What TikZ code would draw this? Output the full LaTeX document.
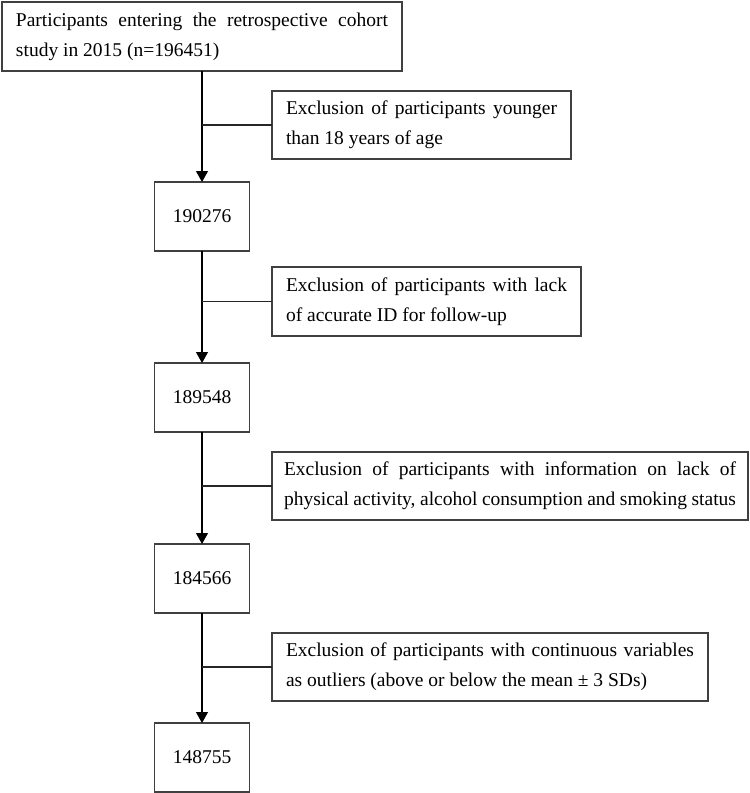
\documentclass[tikz,border=0pt]{standalone}
\usepackage{fontspec}
\setmainfont{Liberation Serif}
\usetikzlibrary{arrows.meta}
\begin{document}
\begin{tikzpicture}[x=1pt,y=-1pt,
  txt/.style={font=\fontsize{19.5}{30}\selectfont},
  exbox/.style={txt, draw=black!75, line width=1.2pt, inner xsep=14pt, inner ysep=0pt, outer sep=0pt, align=justify, anchor=center},
  numbox/.style={txt, draw=black!75, line width=1.2pt, inner sep=0pt, outer sep=0pt, minimum width=95pt, minimum height=69pt, anchor=center},
  conn/.style={draw=black, line width=1.2pt},
  branch/.style={draw=black!85, line width=1.1pt},
  arr/.style={conn, -{Triangle[width=12pt,length=11pt]}}
]
\useasboundingbox (0,0) rectangle (750,793);

\node[exbox, text width=372pt, minimum height=69pt] (top) at (202,36.5)
  {Participants entering the retrospective cohort\linebreak study in 2015 (n=196451)};

\node[exbox, text width=271pt, minimum height=68pt] (ex1) at (421.5,125)
  {Exclusion of participants younger\linebreak than 18 years of age};
\node[numbox] (n1) at (202,216.5) {190276};

\node[exbox, text width=281pt, minimum height=69pt] (ex2) at (426.5,301.5)
  {Exclusion of participants with lack\linebreak of accurate ID for follow-up};
\node[numbox] (n2) at (202,397.5) {189548};

\node[exbox, inner xsep=12pt, text width=452pt, minimum height=68pt] (ex3) at (510,486)
  {Exclusion of participants with information on lack of\linebreak physical activity, alcohol consumption and smoking status};
\node[numbox] (n3) at (202,578.5) {184566};

\node[exbox, text width=408pt, minimum height=68pt] (ex4) at (490,667)
  {Exclusion of participants with continuous variables\linebreak as outliers (above or below the mean ± 3 SDs)};
\node[numbox] (n4) at (202,757.5) {148755};

\draw[arr] (top.south) -- (n1.north);
\draw[arr] (n1.south) -- (n2.north);
\draw[arr] (n2.south) -- (n3.north);
\draw[arr] (n3.south) -- (n4.north);

\draw[branch] (ex1.west) -- (ex1.west -| n1.north);
\draw[branch] (ex2.west) -- (ex2.west -| n1.north);
\draw[branch] (ex3.west) -- (ex3.west -| n1.north);
\draw[branch] (ex4.west) -- (ex4.west -| n1.north);
\end{tikzpicture}
\end{document}
